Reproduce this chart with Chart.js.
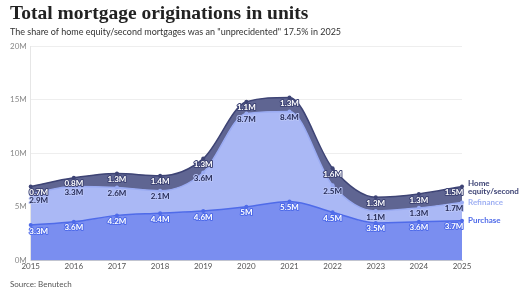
<!DOCTYPE html>
<html>
<head>
<meta charset="utf-8">
<script src="https://cdn.jsdelivr.net/npm/chart.js@4"></script>
<style>
  html, body { margin: 0; padding: 0; background: #fff; }
  #wrap { position: relative; width: 520px; height: 293px; overflow: hidden; }
  #title { position: absolute; left: 10px; top: 2px; font-family: "Liberation Serif", serif; font-weight: bold; font-size: 19.5px; color: #222; }
  #sub { position: absolute; left: 10px; top: 26px; font-family: Lato, sans-serif; font-size: 9px; color: #333; }
  #src { position: absolute; left: 10px; top: 279px; font-family: Lato, sans-serif; font-size: 8px; color: #555; }
  canvas { position: absolute; left: 0; top: 0; }
</style>
</head>
<body>
<div id="wrap">
  <canvas id="myChart" width="520" height="293"></canvas>
  <div id="title">Total mortgage originations in units</div>
  <div id="sub">The share of home equity/second mortgages was an "unprecidented" 17.5% in 2025</div>
  <div id="src">Source: Benutech</div>
</div>
<script>
// data (millions)
const years = ['2015', '2016', '2017', '2018', '2019', '2020', '2021', '2022', '2023', '2024', '2025'];
const purchase = [3.3, 3.6, 4.2, 4.4, 4.6, 5, 5.5, 4.5, 3.5, 3.6, 3.7];
const refinance = [2.9, 3.3, 2.6, 2.1, 3.6, 8.7, 8.4, 2.5, 1.1, 1.3, 1.7];
const homeEquity = [0.7, 0.8, 1.3, 1.4, 1.3, 1.1, 1.3, 1.6, 1.3, 1.3, 1.5];
const yTicks = [0, 5, 10, 15, 20];

function makeSet(label, data, fill, line, textFill, textStroke, nameColor) {
    return {
        label: label,
        data: data,
        fill: label === 'Purchase' ? 'origin' : '-1',
        backgroundColor: fill,
        borderColor: line,
        borderWidth: 1.5,
        pointRadius: 2,
        pointBackgroundColor: line,
        pointBorderWidth: 0,
        cubicInterpolationMode: 'monotone',
        textFill: textFill,
        textStroke: textStroke,
        nameColor: nameColor
    };
}

// value labels + end labels
const labelPlugin = {
    id: 'labels',
    afterDatasetsDraw(chart) {
        const ctx = chart.ctx;
        ctx.save();
        ctx.font = 'bold 8px Lato, sans-serif';
        ctx.textBaseline = 'middle';
        ctx.lineJoin = 'round';
        chart.data.datasets.forEach((ds, i) => {
            const meta = chart.getDatasetMeta(i);
            ctx.textAlign = 'center';
            meta.data.forEach((pt, j) => {
                const txt = ds.data[j] + 'M';
                let x = pt.x;
                if (j === 0) x += 8;
                if (j === ds.data.length - 1) x -= 8;
                const y = pt.y + 6;
                ctx.lineWidth = 2;
                ctx.strokeStyle = ds.textStroke;
                ctx.strokeText(txt, x, y);
                ctx.fillStyle = ds.textFill;
                ctx.fillText(txt, x, y);
            });
            // series name at the right end
            const last = meta.data[meta.data.length - 1];
            ctx.textAlign = 'left';
            ctx.fillStyle = ds.nameColor;
            if (ds.label === 'Home equity/second') {
                ctx.fillText('Home', last.x + 6, last.y - 3);
                ctx.fillText('equity/second', last.x + 6, last.y + 5);
            } else {
                ctx.fillText(ds.label, last.x + 6, last.y);
            }
        });
        ctx.restore();
    }
};

const ctx = document.getElementById('myChart').getContext('2d');
new Chart(ctx, {
    type: 'line',
    data: {
        labels: years,
        datasets: [
            makeSet('Purchase', purchase, '#7a8ef0', '#4f6be9', '#ffffff', '#4f6be9', '#4f6be9'),
            makeSet('Refinance', refinance, '#aab8f5', '#9aabf3', '#262b55', '#b8c4f7', '#9fb0f3'),
            makeSet('Home equity/second', homeEquity, '#5f6592', '#3e4475', '#ffffff', '#3e4475', '#3e4475')
        ]
    },
    options: {
        responsive: false,
        animation: false,
        layout: { padding: { top: 46, right: 58, bottom: 21, left: 6 } },
        plugins: { legend: { display: false }, tooltip: { enabled: false } },
        scales: {
            x: {
                grid: { display: false, drawTicks: false },
                border: { color: '#cccccc' },
                ticks: { color: '#555', font: { family: 'Lato', size: 8 }, maxRotation: 0, autoSkip: false, padding: 1 }
            },
            y: {
                stacked: true,
                min: 0,
                max: 20,
                afterBuildTicks(axis) { axis.ticks = yTicks.map(v => ({ value: v })); },
                grid: { color: '#eeeeee', drawTicks: false },
                border: { display: true, color: '#e6e6e6' },
                ticks: { color: '#888', font: { family: 'Lato', size: 8 }, padding: 4, callback: v => v + 'M' }
            }
        }
    },
    plugins: [labelPlugin]
});
</script>
</body>
</html>
